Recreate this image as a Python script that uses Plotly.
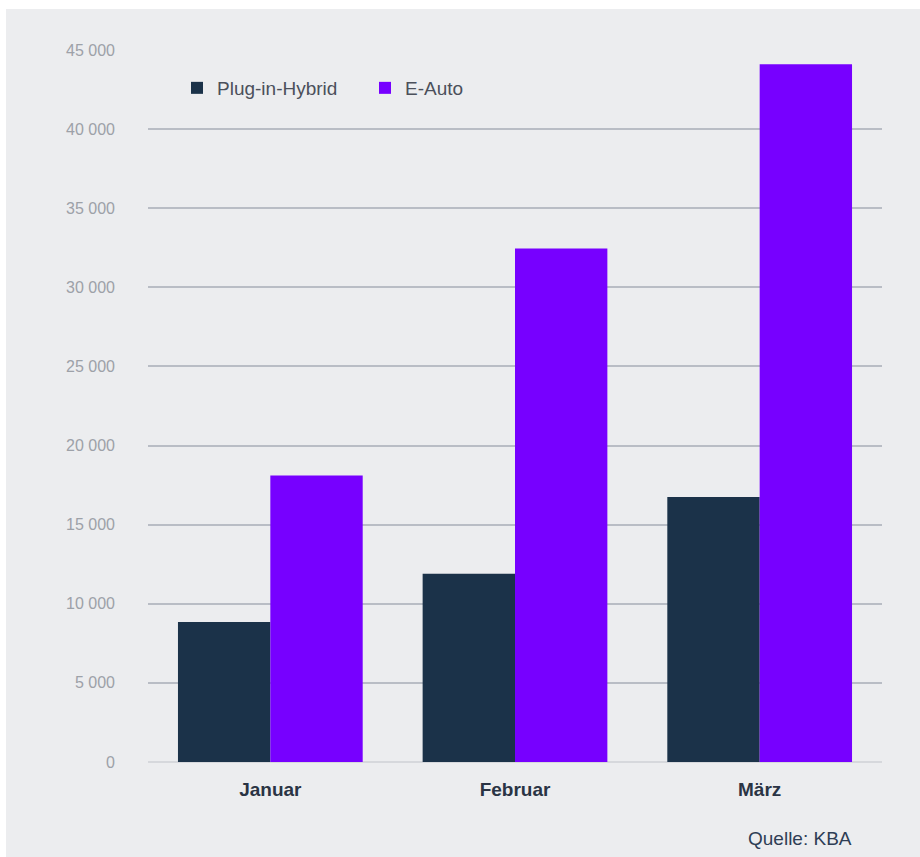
import plotly.graph_objects as go

months = ["Januar", "Februar", "März"]
phev = [8850, 11900, 16750]
eauto = [18100, 32450, 44100]
y_ticks = [0, 5000, 10000, 15000, 20000, 25000, 30000, 35000, 40000, 45000]

W, H = 920, 857
L, R, T, B = 148, 38, 50, 95
pw, ph = W - L - R, H - T - B

def px(X):
    return (X - L) / pw

def py(Y):
    return (H - B - Y) / ph

font = "Arial, Liberation Sans, sans-serif"
bg = "#ecedef"

fig = go.Figure()
fig.add_trace(go.Bar(x=months, y=phev, name="Plug-in-Hybrid",
                     marker=dict(color="#1b3249", line=dict(width=0))))
fig.add_trace(go.Bar(x=months, y=eauto, name="E-Auto",
                     marker=dict(color="#7700ff", line=dict(width=0))))

fig.update_layout(
    width=W, height=H,
    margin=dict(l=L, r=R, t=T, b=B, pad=0),
    paper_bgcolor=bg, plot_bgcolor=bg,
    separators=", ",
    barmode="group", bargap=0.245, bargroupgap=0,
    font=dict(family=font),
    legend=dict(orientation="h", x=px(177), y=py(88), xanchor="left", yanchor="middle",
                font=dict(size=19, color="#4b505b"), bgcolor="rgba(0,0,0,0)",
                itemwidth=30, entrywidth=143, entrywidthmode="pixels",
                traceorder="normal"),
    xaxis=dict(showgrid=False, showline=False, ticks="",
               tickfont=dict(size=19, color="#2a3444", family=font, weight="bold"),
               ticklabelstandoff=14),
    yaxis=dict(range=[0, 45000], tickvals=y_ticks, tickformat=",d",
               showgrid=True, gridcolor="#b9bdc5", gridwidth=2,
               zeroline=True, zerolinecolor="#d6d8dc", zerolinewidth=2,
               showline=False, ticks="", ticklabelstandoff=32,
               tickfont=dict(size=16, color="#9da1a8", family=font)),
    shapes=[
        dict(type="rect", xref="paper", yref="paper", x0=px(-5), x1=px(6),
             y0=py(H + 5), y1=py(-5), fillcolor="white", line=dict(width=0), layer="above"),
        dict(type="rect", xref="paper", yref="paper", x0=px(-5), x1=px(W + 5),
             y0=py(9), y1=py(-5), fillcolor="white", line=dict(width=0), layer="above"),
    ],
    annotations=[
        dict(text="Quelle: KBA", xref="paper", yref="paper", x=px(854), y=py(838),
             xanchor="right", yanchor="middle", showarrow=False,
             font=dict(size=19, color="#2f3e55", family=font)),
    ],
)

fig.write_html("out.html")
